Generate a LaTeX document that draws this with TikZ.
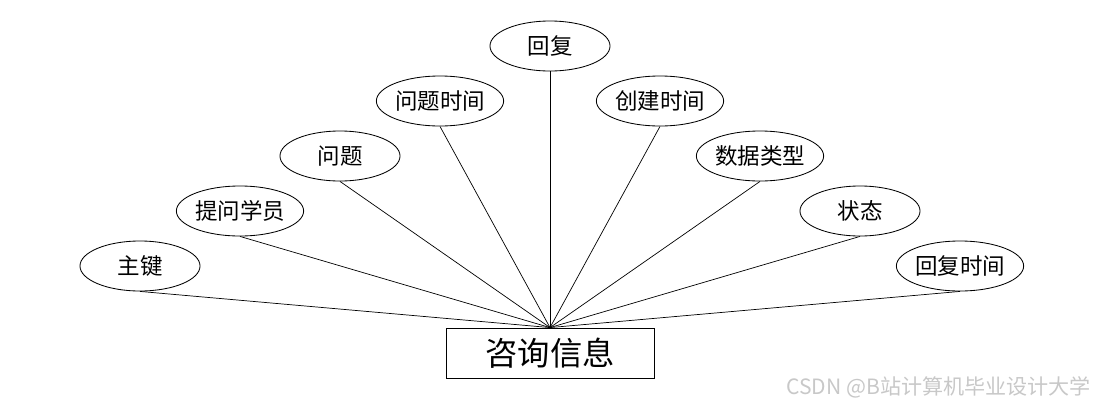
\documentclass[tikz,border=0pt]{standalone}
\usepackage{fontspec}
\setmainfont{Noto Sans CJK SC}
\usepackage{xcolor}
\usetikzlibrary{shapes.geometric}

\begin{document}
\begin{tikzpicture}[x=0.025cm,y=-0.025cm]
	\tikzset{attr/.style={draw, ellipse, line width=0.6pt, minimum width=3cm, minimum height=1.25cm, inner sep=0pt, font=\fontsize{16}{18}\selectfont},
		entity/.style={draw, rectangle, line width=0.6pt, minimum width=5.2cm, minimum height=1.25cm, inner sep=0pt, font=\fontsize{23}{27}\selectfont},
		link/.style={line width=0.5pt}}
	\useasboundingbox (0,0) rectangle (1100,408);
	% entity
	\node [entity] (info) at (550,353) {咨询信息};
	% attributes
	\node [attr] (zj) at (140,266) {主键};
	\node [attr] (twxy) at (240,211) {提问学员};
	\node [attr] (wt) at (340,156) {问题};
	\node [attr] (wtsj) at (440,101) {问题时间};
	\node [attr] (hf) at (550,46) {回复};
	\node [attr] (cjsj) at (660,101) {创建时间};
	\node [attr] (sjlx) at (760,156) {数据类型};
	\node [attr] (zt) at (860,211) {状态};
	\node [attr] (hfsj) at (960,266) {回复时间};
	\foreach \a in {zj,twxy,wt,wtsj,hf,cjsj,sjlx,zt,hfsj}
		\draw [link] (\a.south) -- (info.north);
	\node [color={rgb,255:red,200; green,200; blue,200}, font=\fontsize{15}{18}\selectfont, anchor=east] (mark) at (1096,387) {CSDN @B站计算机毕业设计大学};
\end{tikzpicture}
\end{document}
